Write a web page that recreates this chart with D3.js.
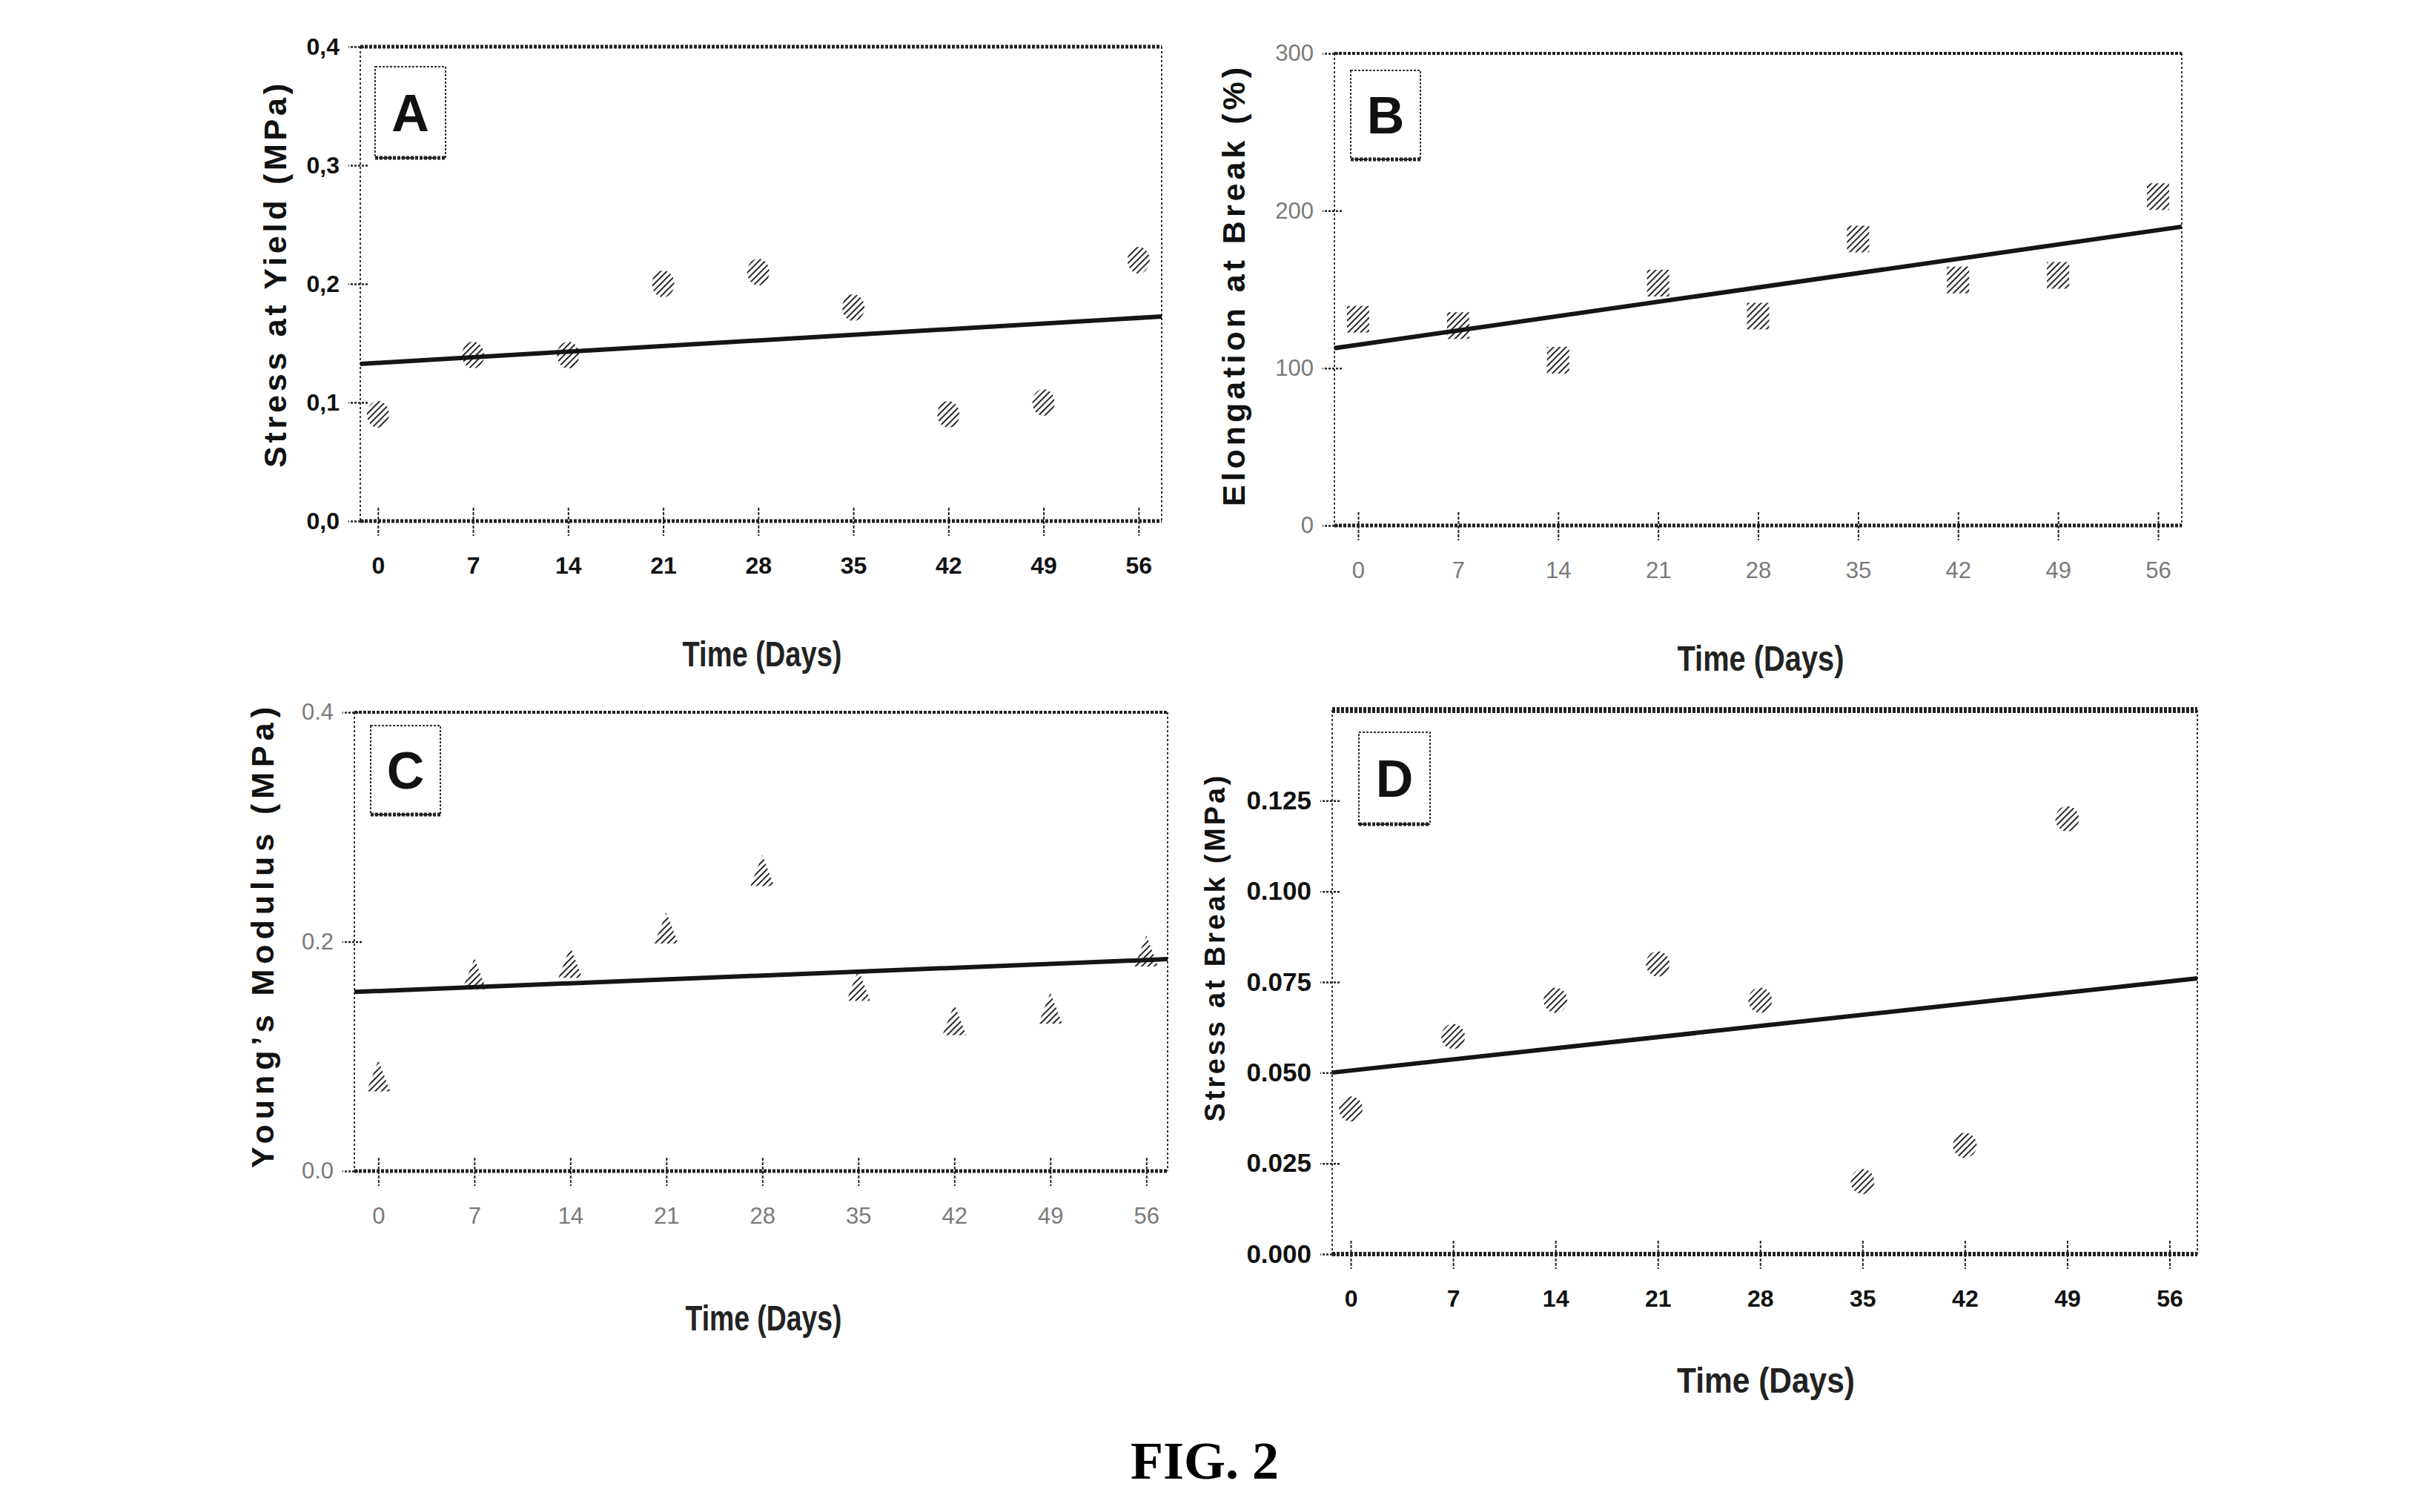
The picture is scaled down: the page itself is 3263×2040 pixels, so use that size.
<!DOCTYPE html>
<html>
<head>
<meta charset="utf-8">
<script src="https://d3js.org/d3.v7.min.js"></script>
<style>
  body { margin: 0; background: #fff; }
  svg { display: block; }
</style>
</head>
<body>
<script>
// sampling days
var days = [0, 7, 14, 21, 28, 35, 42, 49, 56];
var daysD = [0, 7, 14, 21, 28, 35, 42, 49];

// values
var stressYield = [0.09, 0.14, 0.14, 0.20, 0.21, 0.18, 0.09, 0.10, 0.22];
var elongation  = [131, 127, 105, 154, 133, 182, 156, 159, 209];
var youngs      = [0.083, 0.172, 0.182, 0.212, 0.262, 0.162, 0.132, 0.142, 0.192];
var stressBreak = [0.04, 0.06, 0.07, 0.08, 0.07, 0.02, 0.03, 0.12];

// trend line read at day 0 and day 56
var trendDays = [0, 56];
var trendA = [0.1334, 0.1713];
var trendB = [114.8, 187.7];
var trendC = [0.157, 0.184];
var trendD = [0.0506, 0.0752];

// tick values
var yTicksA = [0, 0.1, 0.2, 0.3, 0.4];
var yTicksB = [0, 100, 200, 300];
var yTicksC = [0, 0.2, 0.4];
var yTicksD = [0, 0.025, 0.05, 0.075, 0.1, 0.125];

var W = 3263, H = 2040;
var svg = d3.select("body").append("svg").attr("width", W).attr("height", H);
svg.append("rect").attr("width", W).attr("height", H).attr("fill", "#fff");

// diagonal hatch used by every marker
svg.append("defs").append("pattern")
    .attr("id", "hatch").attr("patternUnits", "userSpaceOnUse")
    .attr("width", 6).attr("height", 6).attr("patternTransform", "rotate(45)")
  .append("line")
    .attr("x1", 0).attr("y1", 0).attr("x2", 0).attr("y2", 6)
    .attr("stroke", "#111").attr("stroke-width", 3.6);

var panels = [
  { letter: "A", xs: days, ys: stressYield, trend: trendA, yDom: [0, 0.4], yTicks: yTicksA,
    fmt: function(d) { return d3.format(".1f")(d).replace(".", ","); },
    yTitle: "Stress at Yield (MPa)", marker: "circle", boldTicks: true,
    l: 486, r: 1567, t: 63, b: 703, xDom: [-1.3, 57.7], topW: 5, botW: 5,
    yt: { x: 371, y: 372, len: 518, size: 43 }, xt: { x: 1028, y: 882, len: 215 },
    lab: { x: 506, y: 90, w: 95, h: 123 } },
  { letter: "B", xs: days, ys: elongation, trend: trendB, yDom: [0, 300], yTicks: yTicksB,
    fmt: d3.format("d"),
    yTitle: "Elongation at Break (%)", marker: "square", boldTicks: false,
    l: 1800, r: 2943, t: 72, b: 709, xDom: [-1.66, 57.66], topW: 4, botW: 5,
    yt: { x: 1664, y: 387, len: 592, size: 43 }, xt: { x: 2375, y: 888, len: 225 },
    lab: { x: 1822, y: 95, w: 94, h: 120 } },
  { letter: "C", xs: days, ys: youngs, trend: trendC, yDom: [0, 0.4], yTicks: yTicksC,
    fmt: d3.format(".1f"),
    yTitle: "Young\u2019s Modulus (MPa)", marker: "triangle", boldTicks: false,
    l: 478, r: 1575, t: 961, b: 1580, xDom: [-1.75, 57.55], topW: 4, botW: 5,
    yt: { x: 354, y: 1265, len: 622, size: 43 }, xt: { x: 1030, y: 1778, len: 211 },
    lab: { x: 500, y: 979, w: 94, h: 120 } },
  { letter: "D", xs: daysD, ys: stressBreak, trend: trendD, yDom: [0, 0.15], yTicks: yTicksD,
    fmt: d3.format(".3f"),
    yTitle: "Stress at Break (MPa)", marker: "circle", boldTicks: true,
    l: 1797, r: 2964, t: 958, b: 1692, xDom: [-1.27, 57.9], topW: 8, botW: 6,
    yt: { x: 1639, y: 1280, len: 467, size: 38 }, xt: { x: 2382, y: 1862, len: 240 },
    lab: { x: 1833, y: 988, w: 96, h: 124 } }
];

panels.forEach(function(p) {
  var x = d3.scaleLinear().domain(p.xDom).range([p.l, p.r]);
  var y = d3.scaleLinear().domain(p.yDom).range([p.b, p.t]);
  var trend = d3.scaleLinear().domain(trendDays).range(p.trend);
  var g = svg.append("g");

  // frame: thin dashed sides, heavier top and bottom
  g.append("line").attr("x1", p.l).attr("x2", p.l).attr("y1", p.t).attr("y2", p.b)
    .attr("stroke", "#333").attr("stroke-width", 2).attr("stroke-dasharray", "3,3");
  g.append("line").attr("x1", p.r).attr("x2", p.r).attr("y1", p.t).attr("y2", p.b)
    .attr("stroke", "#333").attr("stroke-width", 2).attr("stroke-dasharray", "3,3");
  g.append("line").attr("x1", p.l).attr("x2", p.r).attr("y1", p.t).attr("y2", p.t)
    .attr("stroke", "#222").attr("stroke-width", p.topW).attr("stroke-dasharray", "4,2");
  g.append("line").attr("x1", p.l).attr("x2", p.r).attr("y1", p.b).attr("y2", p.b)
    .attr("stroke", "#222").attr("stroke-width", p.botW).attr("stroke-dasharray", "4,2");

  var tickFill = p.boldTicks ? "#111" : "#7a7a7a";
  var tickWeight = p.boldTicks ? "bold" : "normal";

  // y axis
  var ya = g.append("g").attr("transform", "translate(" + p.l + ",0)")
    .call(d3.axisLeft(y).tickValues(p.yTicks).tickFormat(p.fmt).tickSize(12).tickPadding(14));
  ya.select(".domain").remove();
  ya.selectAll(".tick line").attr("x1", 10).attr("x2", -16)
    .attr("stroke", "#222").attr("stroke-width", 2.5).attr("stroke-dasharray", "3,2");
  ya.selectAll(".tick text").attr("x", -28)
    .attr("font-family", "Liberation Sans, Arial, sans-serif")
    .attr("font-size", p.letter === "D" ? 35 : (p.boldTicks ? 32 : 31))
    .attr("font-weight", tickWeight).attr("fill", tickFill);

  // x axis
  var xa = g.append("g").attr("transform", "translate(0," + p.b + ")")
    .call(d3.axisBottom(x).tickValues(days).tickSize(20).tickPadding(30));
  xa.select(".domain").remove();
  xa.selectAll(".tick line").attr("y1", -18).attr("y2", 20)
    .attr("stroke", "#222").attr("stroke-width", 2).attr("stroke-dasharray", "4,2");
  xa.selectAll(".tick text").attr("y", 60).attr("dy", "0.35em")
    .attr("font-family", "Liberation Sans, Arial, sans-serif")
    .attr("font-size", p.boldTicks ? 32 : 31)
    .attr("font-weight", tickWeight).attr("fill", tickFill);

  // trend line across the whole frame
  g.append("path").datum(p.xDom)
    .attr("d", d3.line().x(function(d) { return x(d); }).y(function(d) { return y(trend(d)); }))
    .attr("stroke", "#151515").attr("stroke-width", 6).attr("fill", "none");

  // markers
  var pts = p.xs.map(function(d, i) { return { x: d, y: p.ys[i] }; });
  var m = g.append("g").selectAll("path").data(pts).enter().append("path")
    .attr("fill", "url(#hatch)");
  if (p.marker === "circle") {
    var rx = p.letter === "D" ? 16 : 15, ry = p.letter === "D" ? 17 : 18;
    m.attr("d", function(d) {
      var cx = x(d.x), cy = y(d.y);
      return "M" + (cx - rx) + "," + cy + "a" + rx + "," + ry + " 0 1,0 " + (2 * rx) + ",0" +
             "a" + rx + "," + ry + " 0 1,0 " + (-2 * rx) + ",0Z";
    });
  } else if (p.marker === "square") {
    m.attr("d", function(d) {
      var cx = x(d.x), cy = y(d.y);
      return "M" + (cx - 15) + "," + (cy - 18) + "h30v36h-30Z";
    });
  } else {
    m.attr("d", function(d) {
      var cx = x(d.x), cy = y(d.y);
      return "M" + cx + "," + (cy - 21) + "L" + (cx + 16) + "," + (cy + 21) + "L" + (cx - 16) + "," + (cy + 21) + "Z";
    });
  }

  // panel letter box
  var lb = p.lab;
  g.append("rect").attr("x", lb.x).attr("y", lb.y).attr("width", lb.w).attr("height", lb.h)
    .attr("fill", "#fff").attr("stroke", "#333").attr("stroke-width", 2).attr("stroke-dasharray", "3,2");
  g.append("line").attr("x1", lb.x).attr("x2", lb.x + lb.w).attr("y1", lb.y + lb.h).attr("y2", lb.y + lb.h)
    .attr("stroke", "#222").attr("stroke-width", 5).attr("stroke-dasharray", "4,2");
  g.append("text").attr("x", lb.x + lb.w / 2).attr("y", lb.y + lb.h / 2).attr("dy", "0.36em")
    .attr("text-anchor", "middle").attr("font-family", "Liberation Sans, Arial, sans-serif")
    .attr("font-weight", "bold").attr("font-size", 70).attr("fill", "#111")
    .text(p.letter);

  // axis titles
  g.append("text")
    .attr("transform", "translate(" + p.yt.x + "," + p.yt.y + ") rotate(-90)")
    .attr("text-anchor", "middle").attr("dy", "0.35em")
    .attr("textLength", p.yt.len).attr("lengthAdjust", "spacing")
    .attr("font-family", "Liberation Sans, Arial, sans-serif")
    .attr("font-weight", "bold").attr("font-size", p.yt.size).attr("fill", "#111")
    .text(p.yTitle);
  g.append("text")
    .attr("x", p.xt.x).attr("y", p.xt.y).attr("dy", "0.35em")
    .attr("text-anchor", "middle")
    .attr("textLength", p.xt.len).attr("lengthAdjust", "spacingAndGlyphs")
    .attr("font-family", "Liberation Sans, Arial, sans-serif")
    .attr("font-weight", "bold").attr("font-size", 48).attr("fill", "#222")
    .text("Time (Days)");
});

svg.append("text").attr("x", 1625).attr("y", 1995).attr("text-anchor", "middle")
  .attr("font-family", "Liberation Serif, Times New Roman, serif")
  .attr("font-weight", "bold").attr("font-size", 72).attr("fill", "#000")
  .text("FIG. 2");
</script>
</body>
</html>
